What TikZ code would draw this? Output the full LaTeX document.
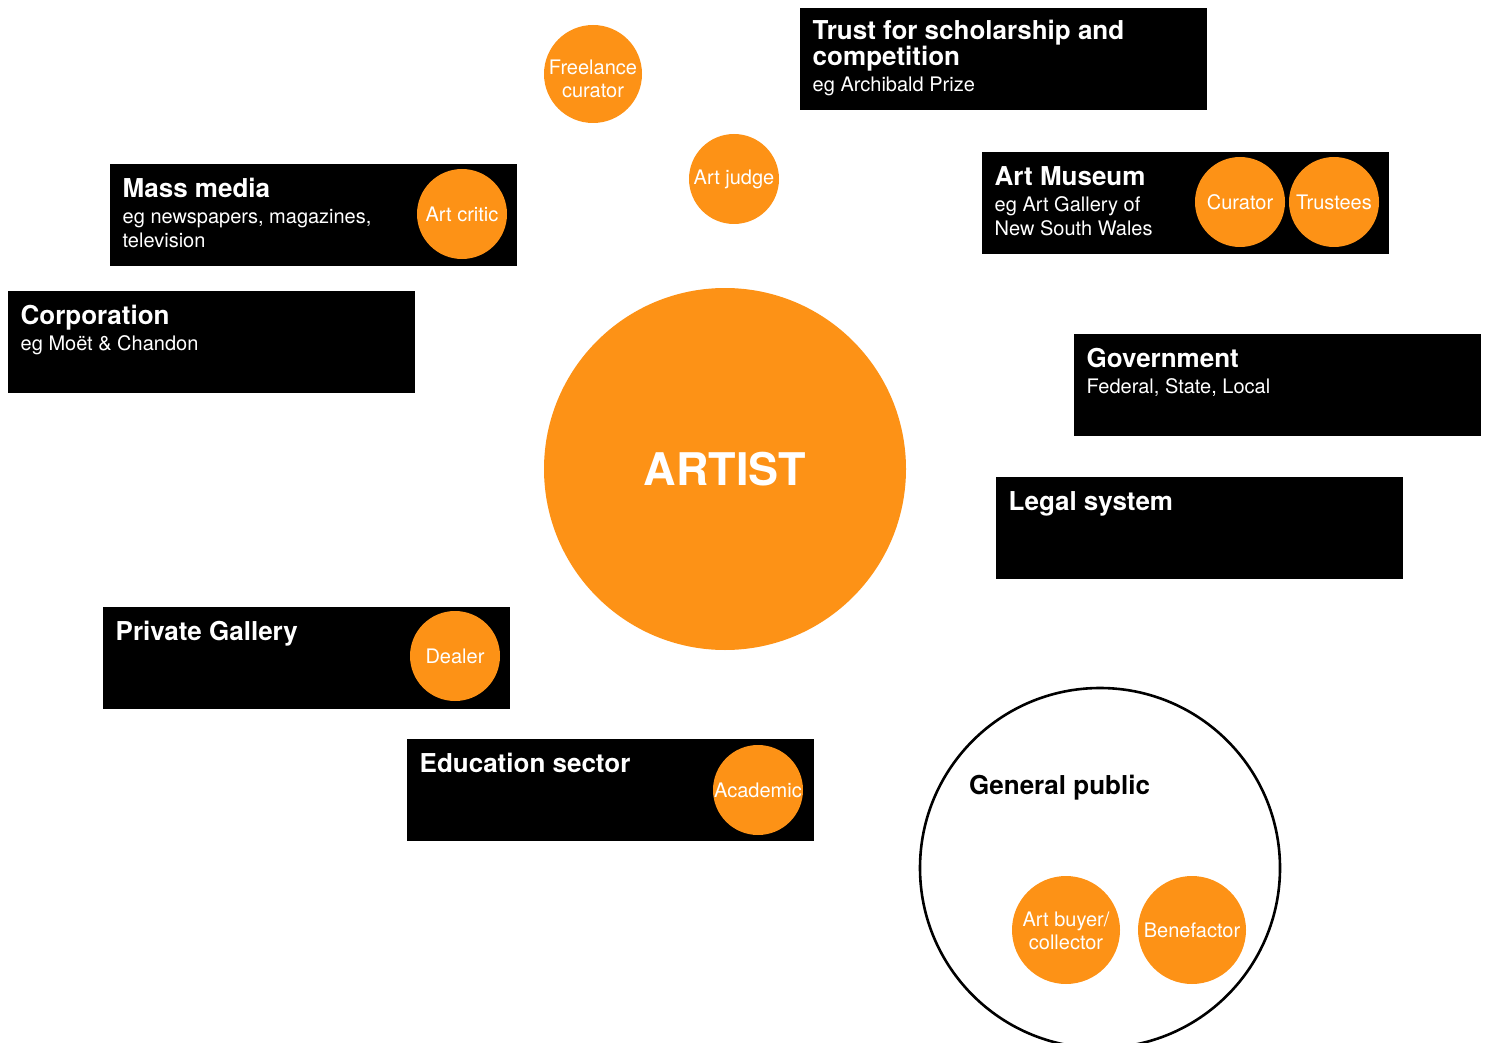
\documentclass[tikz,border=0pt]{standalone}
\usepackage{fontspec}
\setmainfont{TeX Gyre Heros}
\usepackage{xcolor}
\usepackage{tikz}
\usetikzlibrary{positioning}
\definecolor{artorange}{RGB}{253,146,22}

\begin{document}
\begin{tikzpicture}
[x=1pt,y=-1pt]
\tikzset{
	sector/.style = {rectangle, fill = black, anchor = north west, minimum width = 407, minimum height = 102, inner sep = 0},
	heading/.style = {anchor = base west, inner sep = 0, text = white, align = left, font = \fontsize{26}{25.7}\selectfont\bfseries},
	detail/.style = {anchor = base west, inner sep = 0, text = white, align = left, font = \fontsize{20}{23.8}\selectfont},
	role/.style = {circle, fill = artorange, minimum size = 90, inner sep = 0, text = white, align = center, font = \fontsize{20}{22.7}\selectfont},
	rolename/.style = {inner sep = 0, text = white, align = center, font = \fontsize{20}{22.7}\selectfont},
	buyer/.style = {role, minimum size = 108}
}

\useasboundingbox (0,0) rectangle (1486,1043);

% the artist in the middle
\node(artist) [circle, fill = artorange, minimum size = 362, inner sep = 0, text = white, font = \fontsize{45}{45}\selectfont\bfseries] at (725,469) {ARTIST};

% freelance roles
\node(freelance) [role, minimum size = 98] at (593,74) {};
\node(freelance-l) [rolename] at ([yshift=-5]freelance.center) {Freelance\\curator};
\node(judge) [role] at (734,179) {Art judge};

% trust (base of a node with two lines is its last line)
\node(trust) [sector] at (800,8) {};
\node(trust-t) [heading] at ([shift={(12.5,57.2)}]trust.north west) {Trust for scholarship and\\competition};
\node(trust-d) [detail] at ([shift={(12.5,83.7)}]trust.north west) {eg Archibald Prize};

% mass media
\node(media) [sector] at (110,164) {};
\node(media-t) [heading] at ([shift={(12.5,33.5)}]media.north west) {Mass media};
\node(media-d) [detail] at ([shift={(12.5,83.3)}]media.north west) {eg newspapers, magazines,\\television};
\node(critic) [role] at (462,214) {Art critic};

% art museum
\node(museum) [sector] at (982,152) {};
\node(museum-t) [heading] at ([shift={(12.5,33.5)}]museum.north west) {Art Museum};
\node(museum-d) [detail] at ([shift={(12.5,83.3)}]museum.north west) {eg Art Gallery of\\New South Wales};
\node(curator) [role] at (1240,202) {Curator};
\node(trustees) [role] at (1334,202) {Trustees};

% corporation
\node(corp) [sector] at (8,291) {};
\node(corp-t) [heading] at ([shift={(12.5,33.5)}]corp.north west) {Corporation};
\node(corp-d) [detail] at ([shift={(12.5,59.5)}]corp.north west) {eg Moët \& Chandon};

% government
\node(gov) [sector] at (1074,334) {};
\node(gov-t) [heading] at ([shift={(12.5,33.5)}]gov.north west) {Government};
\node(gov-d) [detail] at ([shift={(12.5,59.5)}]gov.north west) {Federal, State, Local};

% legal system
\node(legal) [sector] at (996,477) {};
\node(legal-t) [heading] at ([shift={(12.5,33)}]legal.north west) {Legal system};

% private gallery
\node(gallery) [sector] at (103,607) {};
\node(gallery-t) [heading] at ([shift={(12.5,33)}]gallery.north west) {Private Gallery};
\node(dealer) [role] at (455,656) {Dealer};

% education
\node(edu) [sector] at (407,739) {};
\node(edu-t) [heading] at ([shift={(12.5,33)}]edu.north west) {Education sector};
\node(academic) [role] at (758,790) {Academic};

% general public
\node(public) [circle, draw = black, line width = 2.6, minimum size = 360, inner sep = 0] at (1100,868) {};
\node(public-t) [heading, text = black] at (969,794.5) {General public};
\node(collector) [buyer] at (1066,930) {};
\node(collector-l) [rolename] at ([yshift=-1]collector.center) {Art buyer/\\collector};
\node(benefactor) [buyer] at (1192,930) {Benefactor};
\end{tikzpicture}
\end{document}
